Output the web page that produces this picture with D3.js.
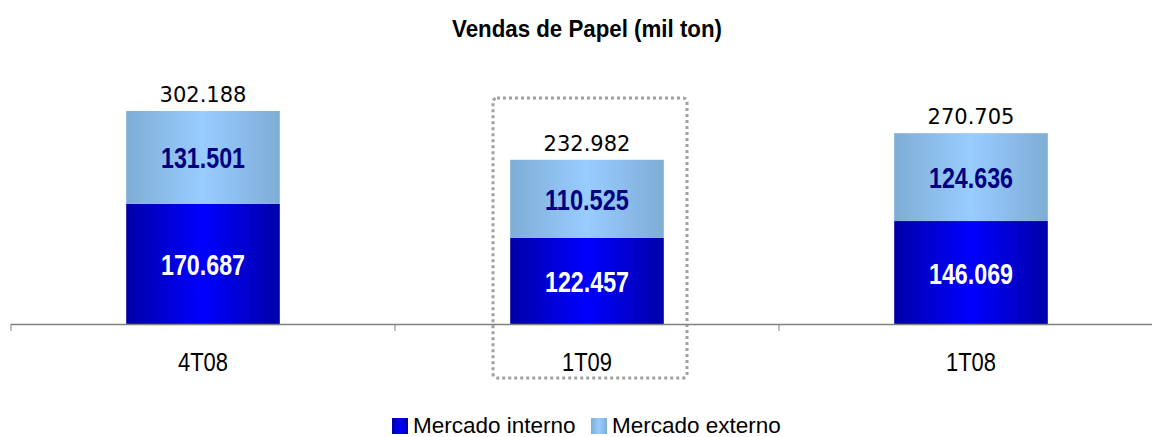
<!DOCTYPE html>
<head>
<meta charset="utf-8">
<style>
    body { margin: 0; background: #fff; }
    text { font-family: "Liberation Sans", Arial, sans-serif; }
</style>
</head>
<body>
<script src="https://d3js.org/d3.v7.min.js"></script>
<script>
// data
const categories = ['4T08', '1T09', '1T08'];
const interno = [170.687, 122.457, 146.069];
const externo = [131.501, 110.525, 124.636];
const seriesNames = ['Mercado interno', 'Mercado externo'];
const highlight = '1T09';

const fmt = v => d3.format('.3f')(v);

const W = 1152, H = 437;
const svg = d3.select('body').append('svg').attr('width', W).attr('height', H);

// gradients
const defs = svg.append('defs');
function grad(id, edge, mid) {
    const g = defs.append('linearGradient').attr('id', id).attr('x1', 0).attr('x2', 1).attr('y1', 0).attr('y2', 0);
    g.append('stop').attr('offset', '0%').attr('stop-color', edge);
    g.append('stop').attr('offset', '50%').attr('stop-color', mid);
    g.append('stop').attr('offset', '100%').attr('stop-color', edge);
}
grad('gInt', '#0000a8', '#0000ff');
grad('gExt', '#7eadd6', '#99ccff');

const x = d3.scaleBand().domain(categories).range([11, 1163]).paddingInner(0.6).paddingOuter(0.3);
const band = d3.scaleBand().domain(categories).range([11, 1163]);
const y = d3.scaleLinear().domain([0, 302.188]).range([324, 111]);

// title (condensed)
svg.append('text').attr('x', 587).attr('y', 37).attr('text-anchor', 'middle')
    .style('font-weight', 'bold').style('font-size', '23px')
    .attr('textLength', 270).attr('lengthAdjust', 'spacingAndGlyphs')
    .text('Vendas de Papel (mil ton)');

// highlight box
const hb = band(highlight);
svg.append('rect').attr('x', hb + 98).attr('y', 98).attr('width', 194).attr('height', 280)
    .attr('rx', 4).attr('fill', 'none').attr('stroke', '#a0a0a0').attr('stroke-width', 3)
    .attr('stroke-dasharray', '3 3');

const data = categories.map((c, i) => ({ c, a: interno[i], b: externo[i] }));
const g = svg.append('g');

g.selectAll('.int').data(data).join('rect')
    .attr('x', d => x(d.c)).attr('width', x.bandwidth())
    .attr('y', d => y(d.a)).attr('height', d => y(0) - y(d.a))
    .attr('fill', 'url(#gInt)');
g.selectAll('.ext').data(data).join('rect')
    .attr('x', d => x(d.c)).attr('width', x.bandwidth())
    .attr('y', d => y(d.a + d.b)).attr('height', d => y(d.a) - y(d.a + d.b))
    .attr('fill', 'url(#gExt)');

g.selectAll('.lint').data(data).join('text')
    .attr('x', d => x(d.c) + x.bandwidth() / 2).attr('y', d => (y(d.a) + y(0)) / 2 + 11)
    .attr('text-anchor', 'middle').style('font-weight', 'bold')
    .style('font-size', '30px').attr('fill', '#fff')
    .attr('textLength', 84).attr('lengthAdjust', 'spacingAndGlyphs')
    .text(d => fmt(d.a));
g.selectAll('.lext').data(data).join('text')
    .attr('x', d => x(d.c) + x.bandwidth() / 2).attr('y', d => (y(d.a) + y(d.a + d.b)) / 2 + 11)
    .attr('text-anchor', 'middle').style('font-weight', 'bold')
    .style('font-size', '30px').attr('fill', '#000080')
    .attr('textLength', 84).attr('lengthAdjust', 'spacingAndGlyphs')
    .text(d => fmt(d.b));
g.selectAll('.ltot').data(data).join('text')
    .attr('x', d => x(d.c) + x.bandwidth() / 2).attr('y', d => y(d.a + d.b) - 9)
    .attr('text-anchor', 'middle').style('font-family', '"DejaVu Sans", sans-serif')
    .style('font-size', '21px').attr('fill', '#000').text(d => fmt(d.a + d.b));

// axis
const ax = svg.append('g');
ax.append('line').attr('x1', 11).attr('x2', 1163).attr('y1', 324.5).attr('y2', 324.5)
    .attr('stroke', '#808080').attr('stroke-width', 1.5);
ax.selectAll('.tick').data(categories.concat(['end'])).join('line')
    .attr('x1', (d, i) => i < 3 ? band(d) : 1163).attr('x2', (d, i) => i < 3 ? band(d) : 1163)
    .attr('y1', 324).attr('y2', 331).attr('stroke', '#808080').attr('stroke-width', 1);
ax.selectAll('.cat').data(categories).join('text')
    .attr('x', d => band(d) + band.bandwidth() / 2).attr('y', 371)
    .attr('text-anchor', 'middle')
    .style('font-size', '25px')
    .attr('textLength', 50).attr('lengthAdjust', 'spacingAndGlyphs')
    .text(d => d);

// legend
const lg = svg.append('g');
const lx = [392, 591];
const lfill = ['url(#gInt)', 'url(#gExt)'];
seriesNames.forEach((s, i) => {
    lg.append('rect').attr('x', lx[i]).attr('y', 418).attr('width', 16).attr('height', 16).attr('fill', lfill[i]);
    lg.append('text').attr('x', lx[i] + 21).attr('y', 433).style('font-size', '22.5px').text(s);
});
</script>
</body>
